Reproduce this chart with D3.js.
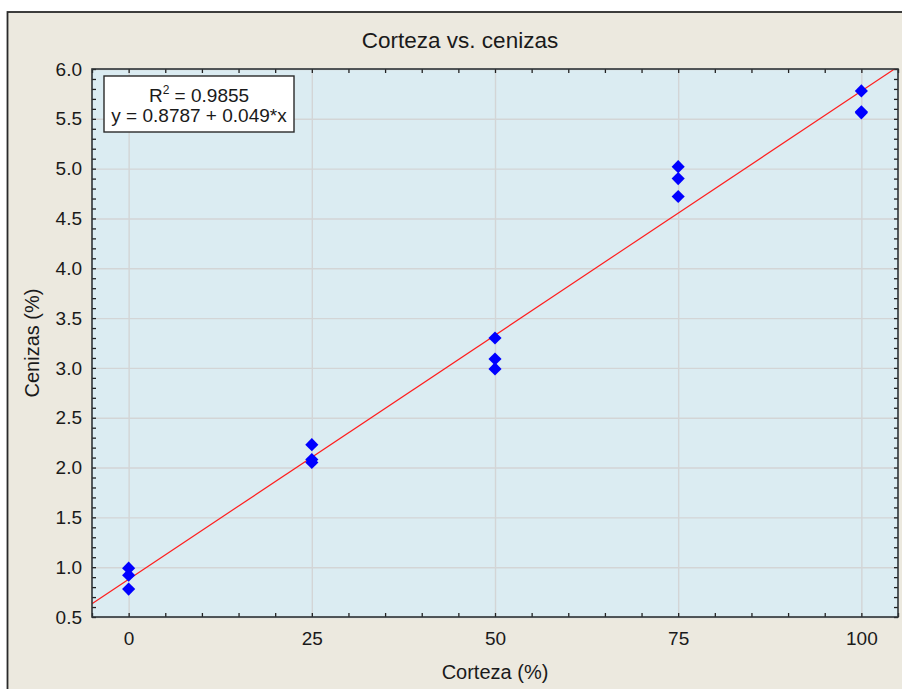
<!DOCTYPE html>
<html>
<head>
<meta charset="utf-8">
<script src="https://cdn.jsdelivr.net/npm/d3@7"></script>
<style>
  html, body { margin: 0; padding: 0; background: #ffffff; }
  svg { display: block; }
  text { font-family: "Liberation Sans", Arial, sans-serif; fill: #1a1a1a; }
</style>
</head>
<body>
<svg id="chart" width="902" height="689"></svg>
<script>
// Corteza (%) levels and measured ash content (%) for each replicate
const corteza = [0, 0, 0, 25, 25, 25, 50, 50, 50, 75, 75, 75, 100, 100, 100];
const cenizas = [0.99, 0.92, 0.78, 2.23, 2.08, 2.05, 3.30, 3.09, 2.99, 5.02, 4.90, 4.72, 5.78, 5.57, 5.56];

// Fitted regression: y = a + b*x
const intercept = 0.8787;
const slope = 0.049;
const r2 = "0.9855";

const xTicks = [0, 25, 50, 75, 100];
const yTicks = [0.5, 1.0, 1.5, 2.0, 2.5, 3.0, 3.5, 4.0, 4.5, 5.0, 5.5, 6.0];

const W = 902, H = 689;
const plot = { left: 92, right: 898, top: 69, bottom: 617 };

const svg = d3.select("#chart");

// Outer panel
svg.append("rect")
  .attr("x", 7.5).attr("y", 12)
  .attr("width", W + 10).attr("height", H + 10)
  .attr("fill", "#ece9df")
  .attr("stroke", "#2a2a2a").attr("stroke-width", 1.8);

const x = d3.scaleLinear().domain([-5, 105]).range([plot.left, plot.right]);
const y = d3.scaleLinear().domain([0.5, 6.0]).range([plot.bottom, plot.top]);

const pw = plot.right - plot.left, ph = plot.bottom - plot.top;

// Plot background
svg.append("rect")
  .attr("x", plot.left).attr("y", plot.top)
  .attr("width", pw).attr("height", ph)
  .attr("fill", "#dbecf2");

// Grid lines at major ticks
const gridX = svg.append("g")
  .attr("transform", `translate(0,${plot.bottom})`)
  .call(d3.axisBottom(x).tickValues(xTicks).tickSize(-ph).tickFormat(""));
const gridY = svg.append("g")
  .attr("transform", `translate(${plot.left},0)`)
  .call(d3.axisLeft(y).tickValues(yTicks).tickSize(-pw).tickFormat(""));
[gridX, gridY].forEach(g => {
  g.select(".domain").remove();
  g.selectAll("line").attr("stroke", "#d3d5d6").attr("stroke-width", 1.4);
});

// Inward minor/major tick marks on all four sides
const xMinor = d3.range(-5, 105.01, 5);
const yMinor = d3.range(0.5, 6.001, 0.1);
const tk = 4;
const tickAxes = [
  svg.append("g").attr("transform", `translate(0,${plot.bottom})`)
    .call(d3.axisBottom(x).tickValues(xMinor).tickSize(-tk).tickFormat("")),
  svg.append("g").attr("transform", `translate(0,${plot.top})`)
    .call(d3.axisTop(x).tickValues(xMinor).tickSize(-tk).tickFormat("")),
  svg.append("g").attr("transform", `translate(${plot.left},0)`)
    .call(d3.axisLeft(y).tickValues(yMinor).tickSize(-tk).tickFormat("")),
  svg.append("g").attr("transform", `translate(${plot.right},0)`)
    .call(d3.axisRight(y).tickValues(yMinor).tickSize(-tk).tickFormat(""))
];
tickAxes.forEach(g => {
  g.select(".domain").remove();
  g.selectAll("line").attr("stroke", "#222").attr("stroke-width", 1.3);
});

// Tick labels
const xLab = svg.append("g")
  .attr("transform", `translate(0,${plot.bottom})`)
  .call(d3.axisBottom(x).tickValues(xTicks).tickSize(0).tickPadding(15).tickFormat(d3.format("d")));
const yLab = svg.append("g")
  .attr("transform", `translate(${plot.left},0)`)
  .call(d3.axisLeft(y).tickValues(yTicks).tickSize(0).tickPadding(10).tickFormat(d3.format(".1f")));
[xLab, yLab].forEach(g => {
  g.select(".domain").remove();
  g.selectAll("text")
    .attr("font-family", '"Liberation Sans", Arial, sans-serif')
    .attr("font-size", 19).attr("fill", "#1a1a1a");
});

// Regression line, clipped to the plot area
svg.append("clipPath").attr("id", "plotClip")
  .append("rect")
  .attr("x", plot.left).attr("y", plot.top)
  .attr("width", pw).attr("height", ph);

const xs = x.domain();
svg.append("line")
  .attr("clip-path", "url(#plotClip)")
  .attr("x1", x(xs[0])).attr("y1", y(intercept + slope * xs[0]))
  .attr("x2", x(xs[1])).attr("y2", y(intercept + slope * xs[1]))
  .attr("stroke", "#ff1e1e").attr("stroke-width", 1.2);

// Data points (blue diamonds)
const diamond = d3.symbol().type(d3.symbolSquare).size(86);
svg.append("g")
  .attr("clip-path", "url(#plotClip)")
  .selectAll("path")
  .data(corteza.map((c, i) => [c, cenizas[i]]))
  .join("path")
  .attr("d", diamond)
  .attr("transform", d => `translate(${x(d[0])},${y(d[1])}) rotate(45)`)
  .attr("fill", "#0000ff");

// Plot border
svg.append("rect")
  .attr("x", plot.left).attr("y", plot.top)
  .attr("width", pw).attr("height", ph)
  .attr("fill", "none")
  .attr("stroke", "#2e3336").attr("stroke-width", 1.6);

// Regression legend box
const box = svg.append("g");
box.append("rect")
  .attr("x", 104).attr("y", 76).attr("width", 190).attr("height", 56)
  .attr("fill", "#ffffff").attr("stroke", "#2a2a2a").attr("stroke-width", 1.4);
const l1 = box.append("text")
  .attr("x", 199).attr("y", 101.5)
  .attr("text-anchor", "middle").attr("font-size", 19);
l1.append("tspan").text("R");
l1.append("tspan").attr("font-size", 12).attr("dy", -8).text("2");
l1.append("tspan").attr("dy", 8).text(" = " + r2);
box.append("text")
  .attr("x", 199).attr("y", 122)
  .attr("text-anchor", "middle").attr("font-size", 19)
  .text(`y = ${intercept} + ${slope}*x`);

// Title and axis titles
svg.append("text")
  .attr("x", 460).attr("y", 48)
  .attr("text-anchor", "middle").attr("font-size", 22.5)
  .text("Corteza vs. cenizas");

svg.append("text")
  .attr("x", (plot.left + plot.right) / 2).attr("y", 679)
  .attr("text-anchor", "middle").attr("font-size", 20)
  .text("Corteza (%)");

svg.append("text")
  .attr("transform", `translate(39,${(plot.top + plot.bottom) / 2}) rotate(-90)`)
  .attr("text-anchor", "middle").attr("font-size", 20)
  .text("Cenizas (%)");
</script>
</body>
</html>
